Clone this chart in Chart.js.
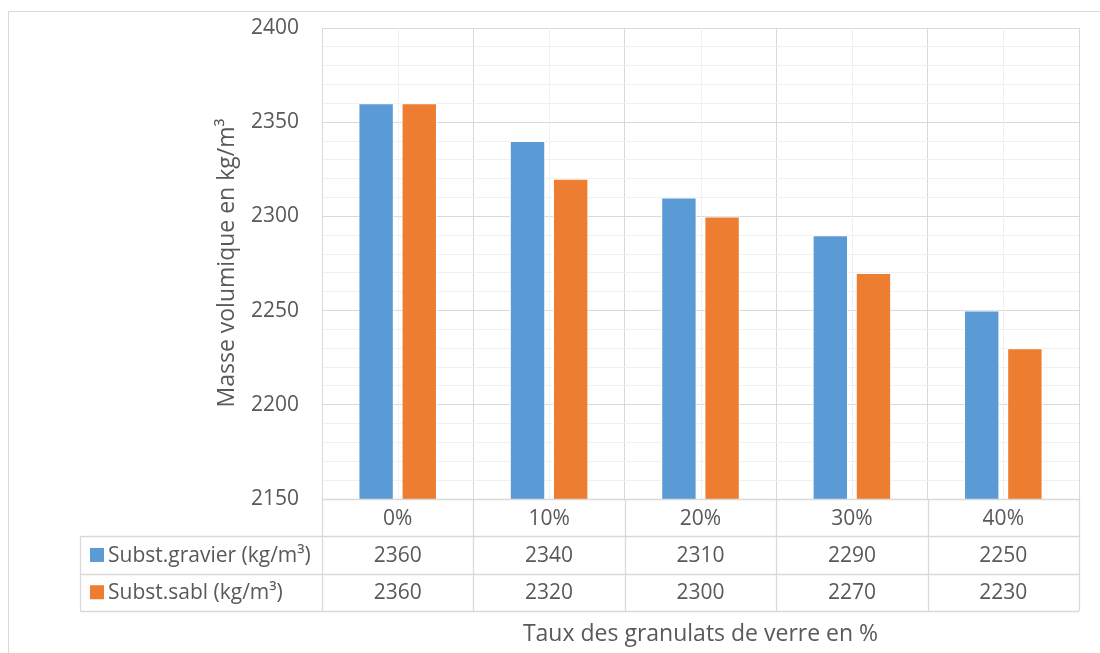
<!DOCTYPE html>
<html>
<head>
<meta charset="utf-8">
<script src="https://cdn.jsdelivr.net/npm/chart.js@4.4.1/dist/chart.umd.min.js"></script>
<style>
  html, body { margin: 0; padding: 0; background: #ffffff; }
  #wrap { position: relative; width: 1100px; height: 653px; }
</style>
</head>
<body>
<div id="wrap"><canvas id="c" width="1100" height="653"></canvas></div>
<script>
// Glass aggregate substitution rate vs. concrete density
const categories = ['0%', '10%', '20%', '30%', '40%'];
const gravierValues = [2360, 2340, 2310, 2290, 2250];
const sableValues = [2360, 2320, 2300, 2270, 2230];
const seriesNames = ['Subst.gravier (kg/m³)', 'Subst.sabl (kg/m³)'];
const yTitle = 'Masse volumique en kg/m³';
const xTitle = 'Taux des granulats de verre en %';
const yMin = 2150, yMax = 2400, yMajor = 50, yMinor = 10;

const BLUE = '#5B9BD5';
const ORANGE = '#ED7D31';
const GRID = '#d9d9d9';
const GRID_MINOR = '#f0f0f0';
const TEXT = '#595959';
const FONT = '"Open Sans", "Noto Sans", sans-serif';

const seriesColors = [BLUE, ORANGE];
const seriesValues = [gravierValues, sableValues];

// Frame, minor vertical lines, data table and titles
const tablePlugin = {
  id: 'dataTable',
  beforeDraw(chart) {
    const ctx = chart.ctx;
    ctx.save();
    ctx.strokeStyle = GRID;
    ctx.lineWidth = 1;
    ctx.beginPath();
    ctx.moveTo(8.5, 653);
    ctx.lineTo(8.5, 11.5);
    ctx.lineTo(1100, 11.5);
    ctx.stroke();
    ctx.restore();
  },
  beforeDatasetsDraw(chart) {
    const ctx = chart.ctx;
    const x = chart.scales.x;
    const area = chart.chartArea;
    ctx.save();
    ctx.strokeStyle = GRID_MINOR;
    ctx.lineWidth = 1;
    categories.forEach((c, i) => {
      const px = Math.round(x.getPixelForValue(i)) + 0.5;
      ctx.beginPath();
      ctx.moveTo(px, area.top);
      ctx.lineTo(px, area.bottom);
      ctx.stroke();
    });
    ctx.restore();
  },
  afterDraw(chart) {
    const ctx = chart.ctx;
    const x = chart.scales.x;
    const area = chart.chartArea;
    const rowH = 37.3;
    const r0 = area.bottom;
    const r1 = r0 + rowH, r2 = r1 + rowH, r3 = r2 + rowH;
    const left = 80.5;
    const half = (x.getPixelForValue(1) - x.getPixelForValue(0)) / 2;

    ctx.save();
    ctx.strokeStyle = GRID;
    ctx.lineWidth = 1.3;
    // column separators through the table
    for (let i = 0; i <= categories.length; i++) {
      const px = i < categories.length ? x.getPixelForValue(i) - half : x.getPixelForValue(i - 1) + half;
      ctx.beginPath();
      ctx.moveTo(Math.round(px) + 0.5, r0);
      ctx.lineTo(Math.round(px) + 0.5, r3);
      ctx.stroke();
    }
    // row separators
    [[area.left, r0], [left, r1], [left, r2], [left, r3]].forEach(([sx, y]) => {
      ctx.beginPath();
      ctx.moveTo(sx, Math.round(y) + 0.5);
      ctx.lineTo(area.right, Math.round(y) + 0.5);
      ctx.stroke();
    });
    ctx.beginPath();
    ctx.moveTo(left, Math.round(r1) + 0.5);
    ctx.lineTo(left, Math.round(r3) + 0.5);
    ctx.stroke();

    // cell text
    ctx.fillStyle = TEXT;
    ctx.textAlign = 'center';
    ctx.textBaseline = 'middle';
    ctx.font = '21px ' + FONT;
    categories.forEach((c, i) => {
      const cx = x.getPixelForValue(i);
      ctx.fillText(c, cx, (r0 + r1) / 2 + 1);
      ctx.fillText(String(gravierValues[i]), cx, (r1 + r2) / 2 + 1);
      ctx.fillText(String(sableValues[i]), cx, (r2 + r3) / 2 + 1);
    });

    // legend keys
    ctx.textAlign = 'left';
    ctx.font = '21px ' + FONT;
    seriesNames.forEach((name, k) => {
      const cy = (k === 0 ? (r1 + r2) / 2 : (r2 + r3) / 2);
      ctx.fillStyle = seriesColors[k];
      ctx.fillRect(90, cy - 7, 14, 14);
      ctx.fillStyle = TEXT;
      ctx.fillText(name, 108, cy + 1);
    });

    // axis titles
    ctx.font = '23px ' + FONT;
    ctx.textAlign = 'center';
    ctx.fillText(xTitle, (area.left + area.right) / 2, 634);
    ctx.save();
    ctx.translate(227, 263);
    ctx.rotate(-Math.PI / 2);
    ctx.fillText(yTitle, 0, 0);
    ctx.restore();
    ctx.restore();
  }
};

new Chart(document.getElementById('c'), {
  type: 'bar',
  data: {
    labels: categories,
    datasets: seriesValues.map((vals, k) => ({
      label: seriesNames[k],
      data: vals,
      backgroundColor: seriesColors[k],
      borderColor: '#ffffff',
      borderWidth: 1,
      categoryPercentage: 0.57,
      barPercentage: 0.82
    }))
  },
  options: {
    responsive: false,
    animation: false,
    layout: { padding: { left: 0, top: 28, right: 21, bottom: 154 } },
    plugins: {
      legend: { display: false },
      tooltip: { enabled: false }
    },
    scales: {
      x: {
        offset: true,
        grid: { offset: true, color: GRID, lineWidth: 1, drawTicks: false },
        border: { display: true, color: GRID },
        ticks: { display: false },
        afterFit(scale) { scale.height = 0; }
      },
      y: {
        min: yMin,
        max: yMax,
        grid: {
          color: (c) => (c.tick && c.tick.value % yMajor === 0 ? GRID : GRID_MINOR),
          lineWidth: 1,
          drawTicks: false
        },
        border: { display: true, color: GRID },
        ticks: {
          stepSize: yMinor,
          autoSkip: false,
          padding: 23,
          color: TEXT,
          font: { family: FONT, size: 21 },
          callback: (v) => (v % yMajor === 0 ? String(v) : '')
        },
        afterFit(scale) {
          scale.width = 322;
          scale.paddingTop = 0;
          scale.paddingBottom = 0;
        }
      }
    }
  },
  plugins: [tablePlugin]
});
</script>
</body>
</html>
